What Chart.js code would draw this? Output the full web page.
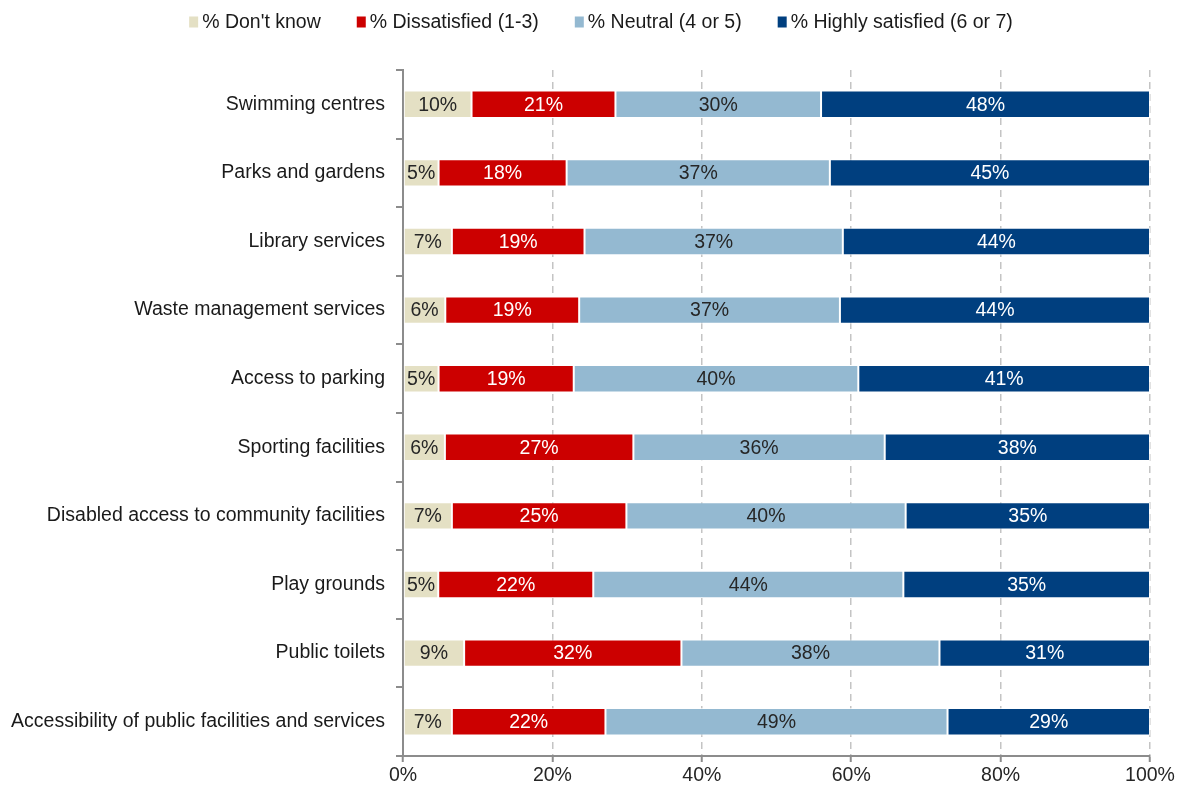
<!DOCTYPE html>
<html>
<head>
<meta charset="utf-8">
<script src="https://cdn.jsdelivr.net/npm/chart.js@4.4.0/dist/chart.umd.min.js"></script>
<style>
  html, body { margin: 0; padding: 0; background: #ffffff; }
  #wrap { width: 1186px; height: 792px; }
</style>
</head>
<body>
<div id="wrap"><canvas id="chart" width="1186" height="792"></canvas></div>
<script>
// Satisfaction with council facilities and services
const categories = [
  'Swimming centres',
  'Parks and gardens',
  'Library services',
  'Waste management services',
  'Access to parking',
  'Sporting facilities',
  'Disabled access to community facilities',
  'Play grounds',
  'Public toilets',
  'Accessibility of public facilities and services'
];
const seriesNames = ["% Don't know", '% Dissatisfied (1-3)', '% Neutral (4 or 5)', '% Highly satisfied (6 or 7)'];
const dontKnow        = [10, 5, 7, 6, 5, 6, 7, 5, 9, 7];
const dissatisfied    = [21, 18, 19, 19, 19, 27, 25, 22, 32, 22];
const neutral         = [30, 37, 37, 37, 40, 36, 40, 44, 38, 49];
const highlySatisfied = [48, 45, 44, 44, 41, 38, 35, 35, 31, 29];
const xTickLabels = ['0%', '20%', '40%', '60%', '80%', '100%'];

const seriesColors = ['#E4E0C4', '#CC0000', '#94B9D1', '#003F7F'];
const labelColors  = ['#262626', '#FFFFFF', '#262626', '#FFFFFF'];
const FONT = "'Liberation Sans', Arial, sans-serif";
const FONT_SIZE = 19.5;

const rawSeries = [dontKnow, dissatisfied, neutral, highlySatisfied];
const totals = categories.map((_, i) => rawSeries.reduce((s, arr) => s + arr[i], 0));

// each row is drawn as a 100% stack of its four values
const datasets = rawSeries.map((arr, k) => ({
  label: seriesNames[k],
  raw: arr,
  data: arr.map((v, i) => v / totals[i] * 100),
  backgroundColor: seriesColors[k],
  borderColor: 'rgba(255,255,255,0.7)',
  borderWidth: 1,
  borderSkipped: false,
  barPercentage: 0.4,
  categoryPercentage: 1.0
}));

const whiteBackground = {
  id: 'whiteBackground',
  beforeDraw(chart) {
    const { ctx } = chart;
    ctx.save();
    ctx.fillStyle = '#ffffff';
    ctx.fillRect(0, 0, chart.width, chart.height);
    ctx.restore();
  }
};

const segmentLabels = {
  id: 'segmentLabels',
  afterDatasetsDraw(chart) {
    const { ctx } = chart;
    ctx.save();
    ctx.font = FONT_SIZE + 'px ' + FONT;
    ctx.textAlign = 'center';
    ctx.textBaseline = 'middle';
    chart.data.datasets.forEach((ds, k) => {
      const meta = chart.getDatasetMeta(k);
      meta.data.forEach((bar, i) => {
        const c = bar.getCenterPoint();
        ctx.fillStyle = labelColors[k];
        ctx.fillText(ds.raw[i] + '%', c.x, c.y + 1);
      });
    });
    ctx.restore();
  }
};

const topLegend = {
  id: 'topLegend',
  afterDraw(chart) {
    const { ctx } = chart;
    ctx.save();
    ctx.font = FONT_SIZE + 'px ' + FONT;
    ctx.textBaseline = 'middle';
    const boxW = 9, boxH = 11, boxGap = 4, itemGap = 36;
    const widths = chart.data.datasets.map(ds => boxW + boxGap + ctx.measureText(ds.label).width);
    const total = widths.reduce((a, b) => a + b, 0) + itemGap * (widths.length - 1);
    let x = 601 - total / 2;
    const y = 22;
    chart.data.datasets.forEach((ds, k) => {
      ctx.fillStyle = ds.backgroundColor;
      ctx.fillRect(x, y - boxH / 2, boxW, boxH);
      ctx.fillStyle = '#1a1a1a';
      ctx.fillText(ds.label, x + boxW + boxGap, y + 1);
      x += widths[k] + itemGap;
    });
    ctx.restore();
  }
};

new Chart(document.getElementById('chart'), {
  type: 'bar',
  data: { labels: categories, datasets },
  plugins: [whiteBackground, segmentLabels, topLegend],
  options: {
    indexAxis: 'y',
    responsive: false,
    animation: false,
    devicePixelRatio: 1,
    layout: { padding: { top: 70, right: 36, bottom: 0, left: 0 } },
    plugins: {
      legend: { display: false },
      tooltip: { enabled: false }
    },
    scales: {
      x: {
        stacked: true,
        min: 0,
        max: 100,
        ticks: {
          stepSize: 20,
          color: '#262626',
          font: { family: FONT, size: FONT_SIZE },
          padding: 2,
          callback: (v, i) => xTickLabels[i]
        },
        grid: {
          color: c => (c.index === 0 ? 'rgba(0,0,0,0)' : '#C4C4C4'),
          lineWidth: 1.5,
          drawTicks: true,
          tickLength: 6,
          tickColor: '#8C8C8C',
          tickWidth: 2
        },
        border: { color: '#8C8C8C', width: 2, dash: [7, 5] },
        afterFit: s => { s.height = 36; }
      },
      y: {
        stacked: true,
        ticks: {
          color: '#1a1a1a',
          font: { family: FONT, size: FONT_SIZE },
          padding: 11
        },
        grid: {
          drawOnChartArea: false,
          drawTicks: true,
          tickLength: 7,
          color: '#8C8C8C',
          lineWidth: 2,
          offset: true
        },
        border: { color: '#8C8C8C', width: 2 },
        afterFit: s => { s.width = 403; }
      }
    }
  }
});
</script>
</body>
</html>
